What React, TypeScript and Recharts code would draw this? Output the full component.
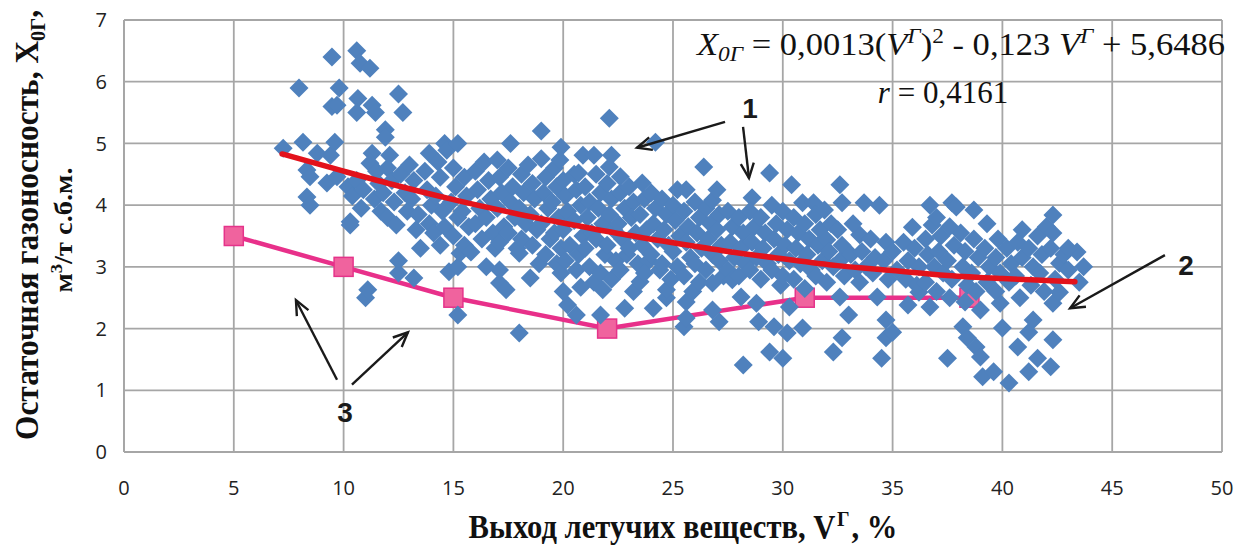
import React from 'react';
import { ComposedChart, Scatter, Line, XAxis, YAxis, CartesianGrid, ReferenceLine } from 'recharts';

const xTicks = [0, 5, 10, 15, 20, 25, 30, 35, 40, 45, 50];
const yTicks = [0, 1, 2, 3, 4, 5, 6, 7];

// измеренные точки (выход летучих V, %; газоносность X, м3/т)
const pointsLowV: [number, number][] = [
  [7.25, 4.92], [7.97, 5.9], [8.15, 5.02], [8.33, 4.57], [8.47, 4.46], [8.33, 4.13], [8.47, 4.0], [8.8, 4.84],
  [9.24, 4.36], [9.4, 4.81], [9.47, 6.4], [9.47, 5.6], [9.7, 5.62], [9.6, 5.02], [9.7, 4.46], [9.8, 5.9],
  [10.3, 3.73], [10.6, 6.5], [10.75, 6.3], [11.2, 6.22], [10.65, 5.73], [10.6, 5.5], [11.3, 5.62], [11.45, 5.5],
  [12.5, 5.8], [12.7, 5.5], [11.9, 5.22], [11.9, 5.1], [11.3, 4.84], [12.1, 4.81], [11.2, 4.68], [10.3, 3.68],
  [11.0, 2.5], [11.1, 2.63], [10.2, 4.3], [10.4, 4.15], [10.6, 4.4], [10.9, 4.25], [10.8, 3.95], [11.5, 4.55],
  [11.6, 4.35], [11.4, 4.1], [11.8, 4.2], [11.7, 3.9], [12.0, 4.6], [12.2, 4.4], [12.3, 4.05], [12.0, 3.8],
  [12.4, 3.68], [12.6, 4.5], [12.8, 4.2], [12.9, 3.9], [12.5, 3.1], [12.5, 2.9], [13.2, 2.82], [13.0, 4.65],
  [13.2, 4.4], [13.1, 4.1], [13.4, 3.85], [13.3, 3.6], [13.5, 3.3], [13.7, 4.55], [13.9, 4.84], [13.8, 4.25],
  [14.0, 4.0], [13.9, 3.7], [14.1, 3.55], [14.3, 4.7], [14.4, 4.45], [14.2, 4.15], [14.5, 3.9], [14.6, 3.65],
  [14.4, 3.35], [14.6, 5.0], [14.7, 4.89], [14.8, 2.92], [15.2, 3.0], [15.2, 5.0], [15.0, 4.6], [15.1, 4.3],
  [14.9, 4.05], [15.2, 3.8], [15.0, 3.5], [15.2, 2.22], [15.3, 3.22],
];

const pointsMidV1: [number, number][] = [
  [15.5, 4.45], [15.6, 4.15], [15.4, 3.9], [15.7, 3.65], [15.5, 3.35], [15.8, 3.24], [16.0, 4.55], [16.1, 4.25],
  [16.2, 3.95], [16.0, 3.7], [16.3, 3.45], [16.5, 3.0], [16.4, 4.7], [16.6, 4.4], [16.7, 4.1], [16.5, 3.8],
  [16.8, 3.55], [16.9, 3.3], [17.0, 4.73], [17.1, 4.45], [17.2, 4.2], [17.0, 3.95], [17.3, 3.65], [17.1, 3.4],
  [17.1, 2.95], [17.1, 2.74], [17.4, 2.63], [17.6, 5.0], [17.5, 4.6], [17.7, 4.3], [17.6, 4.05], [17.8, 3.8],
  [17.5, 3.55], [17.9, 3.3], [18.0, 3.22], [18.1, 4.5], [18.2, 4.2], [18.0, 3.95], [18.3, 3.7], [18.1, 3.45],
  [18.5, 2.82], [18.0, 1.93], [18.4, 4.65], [18.6, 4.35], [18.7, 4.1], [18.5, 3.85], [18.8, 3.6], [18.6, 3.35],
  [18.9, 3.05], [19.0, 5.2], [19.0, 4.75], [19.2, 4.45], [19.1, 4.2], [19.3, 3.95], [19.0, 3.7], [19.4, 3.45],
  [19.2, 3.2], [19.6, 4.6], [19.7, 4.3], [19.5, 4.05], [19.8, 3.8], [19.6, 3.55], [19.9, 3.3], [19.7, 3.05],
  [19.9, 2.9], [19.85, 4.73], [19.9, 4.94], [20.0, 4.4], [20.1, 4.15], [20.2, 3.9], [20.0, 3.6], [20.3, 3.35],
  [20.1, 3.1], [20.2, 2.38], [20.0, 2.6], [20.6, 2.22],
];

const pointsMidV2: [number, number][] = [
  [20.5, 4.5], [20.7, 4.52], [20.9, 4.81], [20.6, 4.25], [20.8, 4.0], [20.5, 3.75], [20.9, 3.5], [20.7, 3.2],
  [20.8, 2.67], [20.6, 2.95], [21.0, 4.3], [21.2, 4.05], [21.1, 3.8], [21.3, 3.55], [21.0, 3.3], [21.2, 3.0],
  [21.4, 4.81], [21.4, 2.75], [21.7, 2.22], [21.8, 2.63], [21.5, 4.5], [21.7, 4.2], [21.6, 3.95], [21.8, 3.7],
  [21.5, 3.45], [21.9, 3.2], [21.7, 2.9], [22.1, 5.41], [22.2, 4.81], [22.1, 4.62], [22.0, 4.35], [22.2, 4.1],
  [22.1, 3.85], [22.3, 3.6], [22.0, 3.35], [22.4, 3.1], [22.2, 2.8], [22.6, 4.46], [22.6, 4.2], [22.8, 3.95],
  [22.5, 3.7], [22.7, 3.45], [22.9, 3.2], [22.6, 2.95], [22.8, 2.33], [23.0, 4.3], [23.2, 4.05], [23.1, 3.8],
  [23.3, 3.55], [23.0, 3.3], [23.4, 3.05], [23.2, 2.6], [23.5, 2.76], [23.6, 4.36], [23.7, 4.1], [23.5, 3.85],
  [23.8, 3.6], [23.6, 3.35], [23.9, 3.1], [23.7, 2.9], [24.2, 5.02], [24.0, 4.2], [24.2, 3.95], [24.1, 3.7],
  [24.3, 3.45], [24.0, 3.2], [24.4, 2.95], [24.1, 2.33], [24.7, 2.5], [24.7, 2.63], [24.5, 4.1], [24.7, 3.85],
  [24.6, 3.6], [24.8, 3.35], [24.5, 3.05], [24.9, 2.8], [25.0, 4.0], [25.2, 4.25], [25.1, 3.75], [25.3, 3.5],
  [25.0, 3.25], [25.2, 3.0],
];

const pointsHighV1: [number, number][] = [
  [25.6, 4.25], [25.5, 2.03], [25.6, 2.17], [25.6, 2.43], [25.5, 3.9], [25.7, 3.65], [25.6, 3.4], [25.8, 3.15],
  [25.5, 2.85], [25.9, 2.6], [26.0, 4.05], [26.2, 3.8], [26.1, 3.55], [26.3, 3.3], [26.0, 3.05], [26.2, 2.75],
  [26.4, 4.62], [26.5, 3.95], [26.7, 3.7], [26.6, 3.45], [26.8, 3.2], [26.5, 2.95], [26.8, 2.3], [26.8, 2.74],
  [26.8, 4.08], [27.0, 4.25], [27.1, 3.85], [27.0, 3.6], [27.2, 3.35], [27.1, 3.1], [27.3, 2.85], [27.1, 2.11],
  [27.5, 3.9], [27.7, 3.65], [27.6, 3.4], [27.8, 3.15], [27.5, 2.95], [27.7, 2.79], [28.1, 2.51], [28.2, 1.41],
  [28.0, 3.8], [28.2, 3.55], [28.1, 3.3], [28.3, 3.05], [28.0, 2.85], [28.6, 4.12], [28.5, 3.9], [28.7, 3.65],
  [28.6, 3.4], [28.8, 3.15], [28.5, 2.95], [28.8, 2.41], [28.9, 2.11], [29.4, 4.52], [29.0, 3.8], [29.2, 3.55],
  [29.1, 3.3], [29.3, 3.05], [29.0, 2.8], [29.4, 1.62], [29.6, 2.03], [29.5, 4.0], [29.7, 3.7], [29.6, 3.45],
  [29.8, 3.2], [29.5, 2.95], [29.9, 2.7], [30.0, 1.52], [30.2, 1.93], [30.0, 3.9], [30.2, 3.6], [30.1, 3.35],
  [30.3, 3.1], [30.0, 2.85], [30.3, 2.35],
  [30.4, 4.33], [30.9, 4.04], [30.9, 2.01], [30.5, 3.8], [30.7, 3.55], [30.6, 3.3], [30.8, 3.05], [30.5, 2.8],
  [31.0, 3.7], [31.2, 3.45], [31.1, 3.2], [31.3, 2.95], [31.0, 2.65], [31.4, 4.04], [31.5, 3.85], [31.7, 3.6],
  [31.6, 3.35], [31.8, 3.1], [31.5, 2.85], [31.9, 3.92], [32.0, 3.44], [32.2, 3.7], [32.1, 3.25], [32.3, 3.0],
  [32.0, 2.75], [32.3, 1.62], [32.7, 1.85], [32.6, 2.51], [32.6, 4.33], [32.7, 4.04], [32.5, 3.6], [32.7, 3.35],
  [32.6, 3.1], [32.8, 2.85], [33.0, 2.22], [33.5, 3.52], [33.7, 4.04], [33.2, 3.7], [33.1, 3.2], [33.3, 2.95],
  [33.6, 3.25], [33.8, 3.0], [33.5, 2.75], [34.4, 4.0], [34.0, 3.45], [34.2, 3.15], [34.1, 2.9], [34.3, 2.51],
  [34.7, 3.4], [34.7, 2.14], [34.7, 1.85], [35.0, 1.94], [34.5, 1.52], [34.6, 3.1], [34.8, 2.8], [35.0, 3.25],
  [35.2, 2.95],
];

const pointsHighV2: [number, number][] = [
  [35.9, 3.64], [35.5, 3.4], [35.7, 3.1], [35.6, 2.8], [35.7, 2.38], [36.2, 2.59], [36.0, 3.3], [36.2, 3.0],
  [36.1, 2.7], [36.7, 4.0], [36.8, 3.68], [36.9, 3.0], [36.5, 3.45], [36.6, 3.2], [36.7, 2.35], [36.5, 2.75],
  [37.7, 4.04], [37.9, 3.97], [37.0, 3.8], [37.2, 3.5], [37.1, 3.25], [37.3, 2.9], [37.0, 2.6], [37.5, 1.52],
  [37.6, 3.65], [37.8, 3.35], [37.5, 3.1], [37.7, 2.8], [37.6, 2.5], [38.2, 2.03], [38.3, 2.43], [38.4, 1.85],
  [38.7, 3.92], [38.1, 3.55], [38.3, 3.25], [38.2, 3.0], [38.4, 2.7], [38.8, 1.7], [38.7, 3.45], [38.9, 3.15],
  [38.6, 2.9], [38.8, 2.6], [39.0, 2.3], [39.0, 1.54], [39.1, 1.22], [39.3, 3.7], [39.2, 3.3], [39.4, 3.0],
  [39.3, 2.75], [39.6, 1.3], [39.9, 2.41], [40.0, 2.01], [39.8, 3.45], [39.7, 3.15], [39.9, 2.9], [39.7, 2.6],
  [40.3, 1.12], [40.2, 3.3], [40.4, 3.05], [40.3, 2.75], [40.8, 2.5], [40.7, 1.7], [40.9, 3.6], [40.7, 3.4],
  [40.9, 3.15], [40.6, 2.85], [41.2, 1.3], [41.2, 1.94], [41.4, 2.14], [41.6, 1.52], [41.2, 3.3], [41.4, 3.0],
  [41.3, 2.7], [41.6, 3.5], [41.8, 3.2], [41.7, 2.9], [41.9, 2.6], [42.0, 3.65], [42.3, 3.55], [42.3, 3.84],
  [42.2, 1.38], [42.3, 1.82], [42.3, 2.41], [42.6, 2.59], [42.6, 3.06], [42.2, 3.3], [42.4, 2.8], [42.8, 3.2],
  [43.0, 2.95], [43.4, 3.24], [43.7, 3.0], [43.5, 2.75], [43.0, 3.3],
];

// линия тренда 1
const trendCurve: [number, number][] = [
  [7.2, 4.83], [10, 4.55], [12.5, 4.31], [15, 4.09], [17.5, 3.89], [20, 3.71], [22.5, 3.54], [25, 3.39],
  [27.5, 3.25], [30, 3.13], [32.5, 3.02], [35, 2.94], [37.5, 2.86], [40, 2.81], [42, 2.78], [43.3, 2.76],
];

// линия 3
const boundaryLine: [number, number][] = [
  [5, 3.5], [10, 3.0], [15, 2.5], [22, 2.0], [31, 2.5], [38.5, 2.5],
];

// стрелки-выноски [x1, y1, x2, y2] в единицах осей
const arrows: [number, number, number, number][] = [
  [27.37, 5.35, 23.36, 4.93],
  [28.19, 5.27, 28.46, 4.44],
  [47.4, 3.19, 43.08, 2.33],
  [9.7, 1.17, 7.83, 2.46],
  [10.38, 1.09, 12.93, 1.94],
];

const toXY = (arr: [number, number][]) => arr.map(([x, y]) => ({ x, y }));
const scatterData = toXY([...pointsLowV, ...pointsMidV1, ...pointsMidV2, ...pointsHighV1, ...pointsHighV2]);
const trendData = toXY(trendCurve);
const boundaryData = toXY(boundaryLine);

const GRID = '#a6a6a6';
const SERIF = '"Liberation Serif", "Times New Roman", serif';

const Diamond = (p: any) => {
  const { cx, cy } = p;
  if (cx == null || cy == null) return null;
  const r = 9.5;
  return <polygon points={`${cx},${cy - r} ${cx + r},${cy} ${cx},${cy + r} ${cx - r},${cy}`} fill="#4f81bd" />;
};

const SquareDot = (p: any) => {
  const { cx, cy } = p;
  if (cx == null || cy == null) return null;
  return <rect x={cx - 9.5} y={cy - 9.5} width={19} height={19} fill="#f0639e" stroke="#e5338a" strokeWidth={1.5} />;
};

const Arrow = (p: any) => {
  const { x1, y1, x2, y2 } = p;
  const ang = Math.atan2(y2 - y1, x2 - x1);
  const L = 16;
  const a = 0.42;
  const h1 = `${x2 - L * Math.cos(ang - a)},${y2 - L * Math.sin(ang - a)}`;
  const h2 = `${x2 - L * Math.cos(ang + a)},${y2 - L * Math.sin(ang + a)}`;
  return (
    <g>
      <line x1={x1} y1={y1} x2={x2} y2={y2} stroke="#1a1a1a" strokeWidth={2.4} />
      <polyline points={`${h1} ${x2},${y2} ${h2}`} fill="none" stroke="#1a1a1a" strokeWidth={2.4} />
    </g>
  );
};

export default function App() {
  return (
    <div style={{ position: 'absolute', left: 0, top: 0, width: 1253, height: 549, background: '#fff' }}>
      <ComposedChart width={1253} height={549} margin={{ top: 20, right: 31, left: 0, bottom: 0 }}>
        <CartesianGrid stroke={GRID} strokeWidth={1.8} />
        <XAxis
          type="number"
          dataKey="x"
          domain={[0, 50]}
          ticks={xTicks}
          height={97}
          tickSize={0}
          tickMargin={29}
          axisLine={{ stroke: GRID, strokeWidth: 1.8 }}
          tickLine={false}
          tick={{ fill: '#222', fontSize: 20, fontFamily: '"Open Sans", sans-serif' }}
          allowDataOverflow
        />
        <YAxis
          type="number"
          dataKey="y"
          domain={[0, 7]}
          ticks={yTicks}
          width={124}
          tickSize={0}
          tickMargin={17}
          axisLine={{ stroke: GRID, strokeWidth: 1.8 }}
          tickLine={false}
          tick={{ fill: '#222', fontSize: 20, fontFamily: '"Open Sans", sans-serif' }}
          allowDataOverflow
        />
        {/* линия 3 под облаком точек */}
        <Scatter
          data={boundaryData}
          dataKey="y"
          shape={SquareDot}
          line={{ stroke: '#e8308a', strokeWidth: 4.5 }}
          lineType="joint"
          fill="#f0639e"
          isAnimationActive={false}
          zIndex={300}
        />
        <Scatter data={scatterData} dataKey="y" shape={Diamond} isAnimationActive={false} zIndex={400} />
        <Line
          data={trendData}
          dataKey="y"
          type="monotone"
          stroke="#e3121b"
          strokeWidth={5.5}
          strokeLinecap="round"
          dot={false}
          activeDot={false}
          isAnimationActive={false}
          zIndex={500}
        />
        {arrows.map(([ax1, ay1, ax2, ay2], i) => (
          <ReferenceLine
            key={i}
            segment={[{ x: ax1, y: ay1 }, { x: ax2, y: ay2 }]}
            shape={Arrow}
            ifOverflow="visible"
            zIndex={600}
          />
        ))}
      </ComposedChart>
      <svg width={1253} height={549} style={{ position: 'absolute', left: 0, top: 0, pointerEvents: 'none' }}>
        <text
          x={38}
          y={225}
          transform="rotate(-90 38 225)"
          textAnchor="middle"
          fontFamily={SERIF}
          fontWeight="bold"
          fontSize={34}
          textLength={430}
          lengthAdjust="spacingAndGlyphs"
          fill="#111"
        >
          Остаточная газоносность, X<tspan fontSize={22} dy={7}>0Г</tspan><tspan dy={-7}>,</tspan>
        </text>
        <text
          x={72}
          y={230}
          transform="rotate(-90 72 230)"
          textAnchor="middle"
          fontFamily={SERIF}
          fontWeight="bold"
          fontSize={26}
          textLength={125}
          lengthAdjust="spacingAndGlyphs"
          fill="#111"
        >
          м<tspan fontSize={17} dy={-10}>3</tspan><tspan dy={10}>/т с.б.м.</tspan>
        </text>
        <g transform="translate(683 538) scale(0.9 1)">
          <text x={0} y={0} textAnchor="middle" fontFamily={SERIF} fontWeight="bold" fontSize={34} fill="#111">
            Выход летучих веществ, V<tspan fontSize={22} dx={2} dy={-12}>Г</tspan><tspan dx={2} dy={12}>, %</tspan>
          </text>
        </g>
        <text
          x={697}
          y={55}
          fontFamily={SERIF}
          fontSize={31}
          textLength={528}
          lengthAdjust="spacingAndGlyphs"
          fill="#111"
          style={{ whiteSpace: 'pre' }}
        >
          <tspan fontStyle="italic">X</tspan>
          <tspan fontStyle="italic" fontSize={21} dy={6}>0Г</tspan>
          <tspan dy={-6}> = 0,0013(</tspan>
          <tspan fontStyle="italic">V</tspan>
          <tspan fontStyle="italic" fontSize={21} dy={-12}>Г</tspan>
          <tspan dy={12}>)</tspan>
          <tspan fontSize={21} dy={-12}>2</tspan>
          <tspan dy={12}> - 0,123 </tspan>
          <tspan fontStyle="italic">V</tspan>
          <tspan fontStyle="italic" fontSize={21} dy={-12}>Г</tspan>
          <tspan dy={12}> + 5,6486</tspan>
        </text>
        <text x={943} y={103} textAnchor="middle" fontFamily={SERIF} fontSize={31} fill="#111" style={{ whiteSpace: 'pre' }}>
          <tspan fontStyle="italic">r</tspan> = 0,4161
        </text>
        <g fontFamily='"Liberation Sans", Arial, sans-serif' fontWeight="bold" fontSize={28} fill="#1a1a1a" textAnchor="middle">
          <text x={750} y={118}>1</text>
          <text x={1186} y={275}>2</text>
          <text x={345} y={422}>3</text>
        </g>
      </svg>
    </div>
  );
}
